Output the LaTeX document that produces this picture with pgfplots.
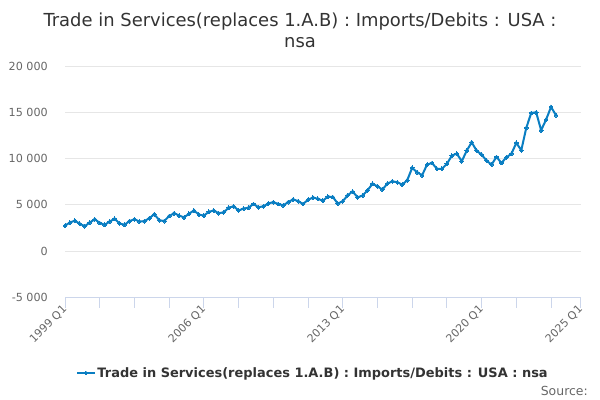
\documentclass[border=0pt]{standalone}
\usepackage{fontspec}
\setmainfont{DejaVu Sans}
\usepackage{pgfplots}
\pgfplotsset{compat=1.18}
\definecolor{series}{HTML}{0A7EC2}
\definecolor{axiscol}{HTML}{CCD6EB}
\definecolor{gridcol}{HTML}{E6E6E6}
\definecolor{labelcol}{HTML}{666666}
\definecolor{titlecol}{HTML}{333333}
\begin{document}
\begin{tikzpicture}
\useasboundingbox (0bp,0bp) rectangle (600bp,-400bp);
\node[font=\fontsize{18}{21}\selectfont, text=titlecol, align=center] at (300bp,-30bp) {Trade in Services(replaces 1.A.B) : Imports/Debits : USA :\\nsa};
\begin{axis}[
  scale only axis, width=515.8bp, height=231.5bp,
  anchor=south west, at={(65bp,-297.5bp)},
  xmin=0, xmax=104, ymin=-5000, ymax=20000,
  scaled y ticks=false, scaled x ticks=false,
  axis x line*=bottom, axis y line*=left,
  x axis line style={draw=axiscol, line width=1bp, -},
  y axis line style={draw=none},
  ytick={-5000,0,5000,10000,15000,20000},
  yticklabels={-5\hspace{0.32em}000,0,5\hspace{0.32em}000,10\hspace{0.32em}000,15\hspace{0.32em}000,20\hspace{0.32em}000},
  ymajorgrids, grid style={draw=gridcol, line width=1bp},
  ytick style={draw=none},
  xtick={0,28,56,84,104},
  xticklabels={1999 Q1,2006 Q1,2013 Q1,2020 Q1,2025 Q1},
  minor xtick={7,14,21,35,42,49,63,70,77,91,98},
  xtick style={draw=axiscol, line width=1bp},
  minor x tick style={draw=axiscol, line width=1bp},
  tick align=outside, major tick length=10bp, minor tick length=10bp,
  yticklabel style={font=\fontsize{11.2}{13}\selectfont, text=labelcol, anchor=east, inner sep=0pt, xshift=-7bp},
  xticklabel style={font=\fontsize{11}{13}\selectfont, text=labelcol, rotate=45, anchor=east, inner sep=0pt},
  legend style={at={(axis description cs:0.481,-0.326)}, anchor=center, draw=none, fill=none,
    font=\fontsize{13}{15}\selectfont\bfseries, text=titlecol},
  clip=false,
]
\addplot[color=series, line width=2bp, mark=*, mark size=1.9bp, mark options={fill=series, draw=series, line width=0bp}] table {
0 2750
1 3100
2 3300
3 2950
4 2700
5 3100
6 3450
7 3050
8 2850
9 3200
10 3500
11 3000
12 2850
13 3250
14 3450
15 3200
16 3250
17 3550
18 4000
19 3350
20 3250
21 3800
22 4100
23 3850
24 3650
25 4050
26 4400
27 3950
28 3850
29 4250
30 4400
31 4100
32 4200
33 4700
34 4850
35 4400
36 4600
37 4700
38 5100
39 4750
40 4850
41 5150
42 5300
43 5100
44 4950
45 5300
46 5600
47 5400
48 5100
49 5550
50 5800
51 5650
52 5450
53 5900
54 5850
55 5150
56 5390
57 6040
58 6440
59 5820
60 6000
61 6580
62 7270
63 7010
64 6650
65 7300
66 7550
67 7440
68 7190
69 7660
70 9000
71 8520
72 8200
73 9350
74 9530
75 8890
76 8890
77 9430
78 10320
79 10540
80 9710
81 10860
82 11760
83 10850
84 10430
85 9780
86 9350
87 10180
88 9530
89 10140
90 10510
91 11700
92 10900
93 13310
94 14930
95 15000
96 13060
97 14210
98 15580
99 14680
};
\addlegendentry{Trade in Services(replaces 1.A.B) : Imports/Debits : USA : nsa}
\end{axis}
\node[anchor=base east, inner sep=0pt, font=\fontsize{12.5}{14}\selectfont, text=labelcol] at (588bp,-395bp) {Source:};
\end{tikzpicture}
\end{document}
